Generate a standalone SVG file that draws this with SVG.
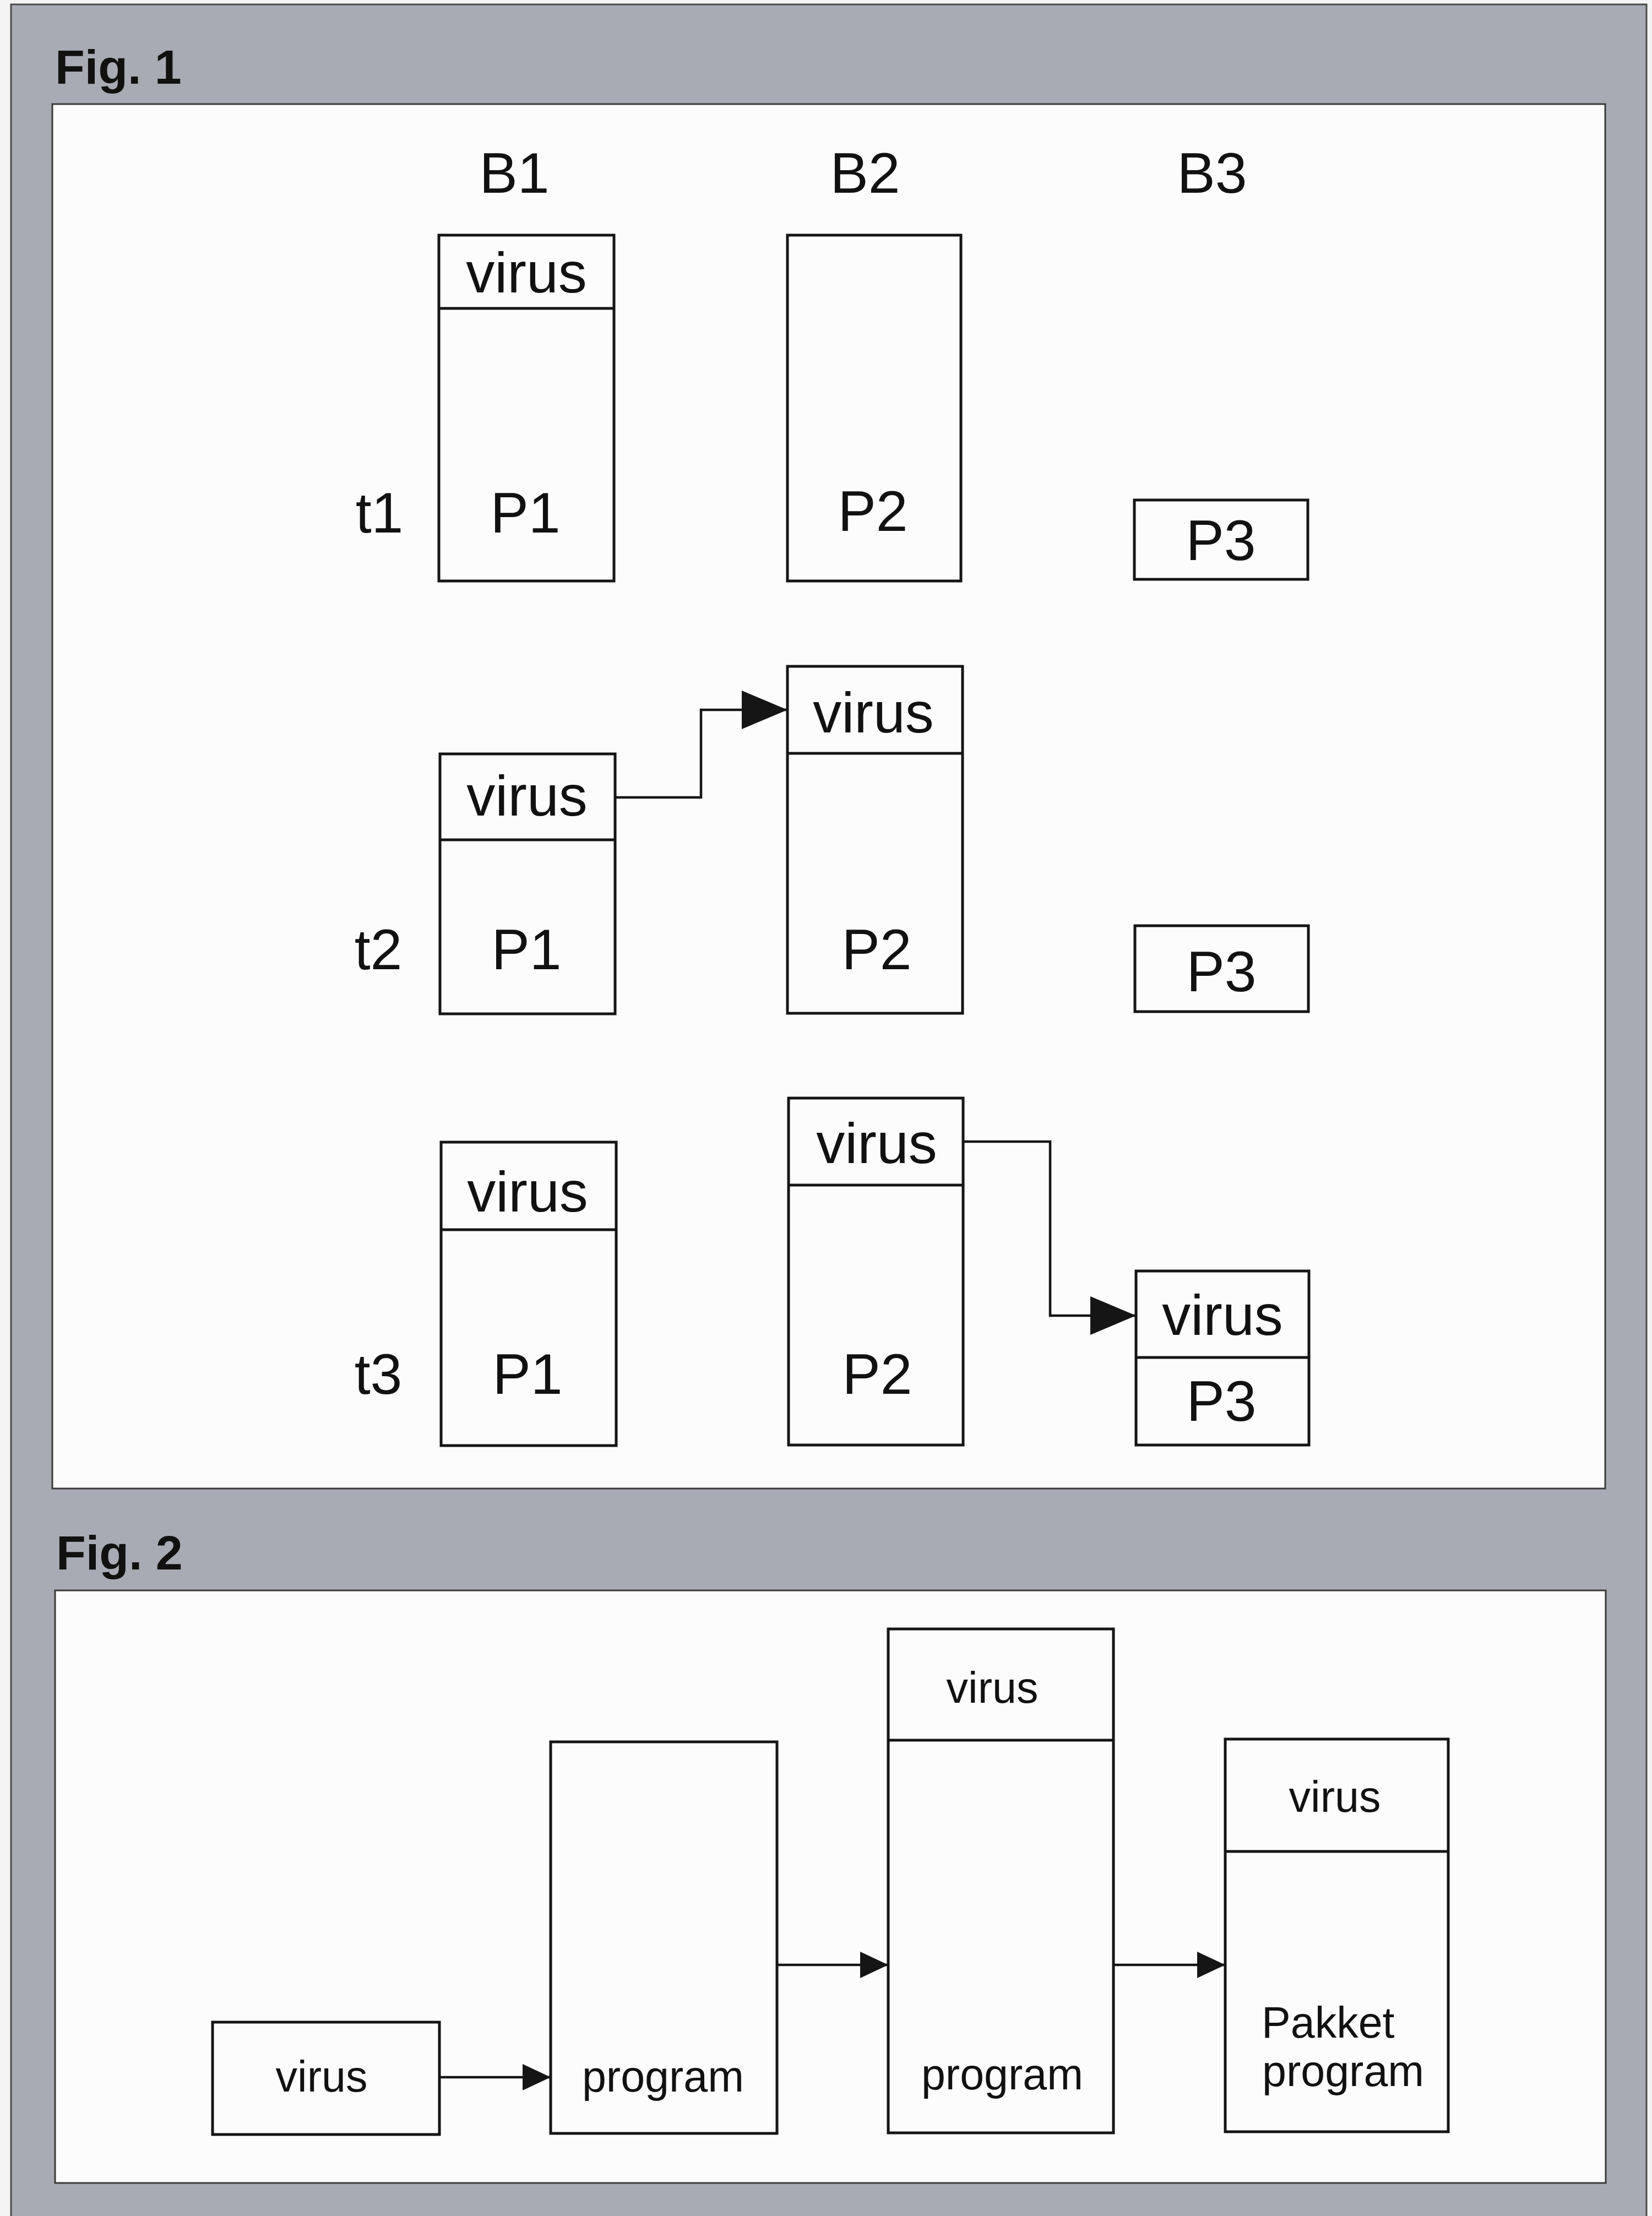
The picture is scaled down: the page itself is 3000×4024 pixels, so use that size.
<svg xmlns="http://www.w3.org/2000/svg" width="3000" height="4024" viewBox="0 0 3000 4024">
<defs>
<style>
.frame{fill:#a8abb3;stroke:#4a4a4a;stroke-width:3}
.panel{fill:#fcfcfc;stroke:#3a3a3a;stroke-width:3}
.box{fill:none;stroke:#151515;stroke-width:5}
.div{stroke:#151515;stroke-width:5}
.conn{fill:none;stroke:#151515;stroke-width:4.5}
.fig{font-family:"Liberation Sans",Arial,sans-serif;font-weight:bold;font-size:88px;fill:#111}
.t1{font-family:"Liberation Sans",Arial,sans-serif;font-size:104px;fill:#111;text-anchor:middle}
.t2{font-family:"Liberation Sans",Arial,sans-serif;font-size:79px;fill:#111;text-anchor:middle}
.t2s{font-family:"Liberation Sans",Arial,sans-serif;font-size:79px;fill:#111}
</style>
<marker id="headL" markerUnits="userSpaceOnUse" markerWidth="84" markerHeight="72" refX="83" refY="35" orient="auto">
<path d="M0,0 L83,35 L0,70 Z" fill="#151515"/>
</marker>
<marker id="headS" markerUnits="userSpaceOnUse" markerWidth="52" markerHeight="50" refX="51" refY="24" orient="auto">
<path d="M0,0 L51,24 L0,48 Z" fill="#151515"/>
</marker>
</defs>
<rect x="0" y="0" width="3000" height="4024" fill="#f4f4f4"/>
<rect class="frame" x="20" y="8" width="2970" height="4040"/>

<!-- Fig. 1 -->
<text class="fig" x="100" y="152">Fig. 1</text>
<rect class="panel" x="95" y="189" width="2820" height="2514"/>
<text class="t1" x="934" y="350">B1</text>
<text class="t1" x="1571" y="350">B2</text>
<text class="t1" x="2201" y="350">B3</text>
<text class="t1" x="689" y="967">t1</text>
<text class="t1" x="687" y="1760">t2</text>
<text class="t1" x="687" y="2531">t3</text>

<g id="t1-b1">
<rect class="box" x="797" y="427" width="318" height="628"/>
<line class="div" x1="797" y1="560" x2="1115" y2="560"/>
<text class="t1" x="956" y="531">virus</text>
<text class="t1" x="954" y="967">P1</text>
</g>
<g id="t1-b2">
<rect class="box" x="1430" y="427" width="315" height="628"/>
<text class="t1" x="1585" y="964">P2</text>
</g>
<g id="t1-b3">
<rect class="box" x="2060" y="908" width="315" height="144"/>
<text class="t1" x="2217" y="1017">P3</text>
</g>

<g id="t2-b1">
<rect class="box" x="799" y="1369" width="318" height="472"/>
<line class="div" x1="799" y1="1525" x2="1117" y2="1525"/>
<text class="t1" x="957" y="1481">virus</text>
<text class="t1" x="956" y="1760">P1</text>
</g>
<g id="t2-b2">
<rect class="box" x="1430" y="1210" width="318" height="630"/>
<line class="div" x1="1430" y1="1368" x2="1748" y2="1368"/>
<text class="t1" x="1586" y="1330">virus</text>
<text class="t1" x="1592" y="1760">P2</text>
</g>
<g id="t2-b3">
<rect class="box" x="2061" y="1681" width="315" height="156"/>
<text class="t1" x="2218" y="1800">P3</text>
</g>

<g id="t3-b1">
<rect class="box" x="801" y="2074" width="318" height="551"/>
<line class="div" x1="801" y1="2233" x2="1119" y2="2233"/>
<text class="t1" x="958" y="2200">virus</text>
<text class="t1" x="958" y="2531">P1</text>
</g>
<g id="t3-b2">
<rect class="box" x="1432" y="1994" width="317" height="630"/>
<line class="div" x1="1432" y1="2152" x2="1749" y2="2152"/>
<text class="t1" x="1592" y="2112">virus</text>
<text class="t1" x="1593" y="2531">P2</text>
</g>
<g id="t3-b3">
<rect class="box" x="2063" y="2308" width="314" height="316"/>
<line class="div" x1="2063" y1="2465" x2="2377" y2="2465"/>
<text class="t1" x="2220" y="2424">virus</text>
<text class="t1" x="2218" y="2580">P3</text>
</g>

<!-- Fig. 2 -->
<text class="fig" x="102" y="2850">Fig. 2</text>
<rect class="panel" x="100" y="2888" width="2816" height="1076"/>

<g id="f2-virus">
<rect class="box" x="386" y="3672" width="412" height="204"/>
<text class="t2" x="584" y="3798">virus</text>
</g>
<g id="f2-program">
<rect class="box" x="1000" y="3163" width="411" height="711"/>
<text class="t2" x="1204" y="3798">program</text>
</g>
<g id="f2-infected">
<rect class="box" x="1613" y="2958" width="409" height="915"/>
<line class="div" x1="1613" y1="3160" x2="2022" y2="3160"/>
<text class="t2" x="1802" y="3092">virus</text>
<text class="t2" x="1820" y="3794">program</text>
</g>
<g id="f2-pakket">
<rect class="box" x="2225" y="3158" width="405" height="713"/>
<line class="div" x1="2225" y1="3362" x2="2630" y2="3362"/>
<text class="t2" x="2424" y="3290">virus</text>
<text class="t2s" x="2291" y="3700">Pakket</text>
<text class="t2s" x="2292" y="3788">program</text>
</g>

<g id="connectors">
<path class="conn" d="M1117,1448 H1273 V1289 H1430" marker-end="url(#headL)"/>
<path class="conn" d="M1749,2073 H1907 V2389 H2063" marker-end="url(#headL)"/>
<path class="conn" d="M798,3772 H1000" marker-end="url(#headS)"/>
<path class="conn" d="M1411,3568 H1613" marker-end="url(#headS)"/>
<path class="conn" d="M2022,3568 H2225" marker-end="url(#headS)"/>
</g>
</svg>
